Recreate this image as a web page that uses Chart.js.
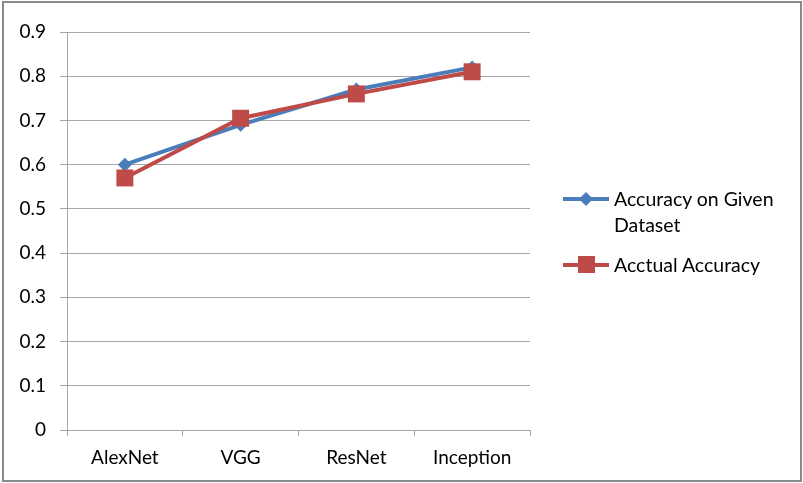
<!DOCTYPE html>
<html>
<head>
<meta charset="utf-8">
<script src="https://cdn.jsdelivr.net/npm/chart.js@4/dist/chart.umd.min.js"></script>
<style>
  html, body { margin: 0; padding: 0; background: #fff; }
  #wrap { position: relative; width: 803px; height: 483px; }
  #frame { position: absolute; left: 2px; top: 1px; width: 796px; height: 477px; border: 2px solid #8a8a8a; pointer-events: none; }
  #legend { position: absolute; left: 563px; top: 186px; font-family: Lato, sans-serif; font-size: 19.5px; color: #000; }
  .item { position: relative; padding-left: 51px; line-height: 26px; margin-bottom: 14px; width: 190px; }
  .swatch { position: absolute; left: 0; top: 11px; width: 46px; height: 4px; }
  .mark { position: absolute; }
</style>
</head>
<body>
<div id="wrap">
  <canvas id="myChart" width="803" height="483"></canvas>
  <div id="legend"></div>
  <div id="frame"></div>
</div>
<script>
// === DATA ===
const categories = ['AlexNet', 'VGG', 'ResNet', 'Inception']
const givenAccuracy = [0.60, 0.69, 0.77, 0.82]
const actualAccuracy = [0.57, 0.705, 0.76, 0.81]
const yTicks = [0, 0.1, 0.2, 0.3, 0.4, 0.5, 0.6, 0.7, 0.8, 0.9]

const blue = '#4a7ebb'
const red = '#be4b48'
const gridColor = '#a6a6a6'

Chart.defaults.font.family = 'Lato, sans-serif'
Chart.defaults.font.size = 19
Chart.defaults.color = '#000'

const ctx = document.getElementById('myChart')
const myChart = new Chart(ctx, {
  type: 'line',
  data: {
    labels: categories,
    datasets: [{
      label: 'Accuracy on Given Dataset',
      data: givenAccuracy,
      borderColor: blue,
      backgroundColor: blue,
      borderWidth: 4,
      pointStyle: 'rectRot',
      pointRadius: 7,
      pointBorderWidth: 0,
      order: 1
    }, {
      label: 'Acctual Accuracy',
      data: actualAccuracy,
      borderColor: red,
      backgroundColor: red,
      borderWidth: 4,
      pointStyle: 'rect',
      pointRadius: 12,
      pointBorderWidth: 0,
      order: 0
    }]
  },
  options: {
    responsive: false,
    animation: false,
    layout: { padding: { left: 0, right: 273, top: 32, bottom: 0 } },
    plugins: { legend: { display: false }, tooltip: { enabled: false } },
    scales: {
      x: {
        offset: true,
        grid: { offset: true, drawOnChartArea: false, color: gridColor, tickLength: 6 },
        border: { color: gridColor, width: 1 },
        ticks: { padding: 10 },
        afterFit: s => { s.height = 53 }
      },
      y: {
        min: 0,
        max: 0.9,
        afterBuildTicks: s => { s.ticks = yTicks.map(v => ({ value: v })) },
        grid: { color: gridColor, tickLength: 7 },
        border: { color: gridColor, width: 1 },
        ticks: { padding: 14, callback: v => String(v) },
        afterFit: s => { s.width = 67 }
      }
    }
  }
})

// === LEGEND ===
const legend = document.getElementById('legend')
myChart.data.datasets.forEach(ds => {
  const item = document.createElement('div')
  item.className = 'item'
  const sw = document.createElement('div')
  sw.className = 'swatch'
  sw.style.background = ds.borderColor
  const mk = document.createElement('div')
  mk.className = 'mark'
  mk.style.background = ds.borderColor
  if (ds.pointStyle === 'rect') {
    mk.style.cssText += 'left:15px;top:4px;width:17px;height:17px;'
  } else {
    mk.style.cssText += 'left:18px;top:8px;width:10px;height:10px;transform:rotate(45deg);'
  }
  item.appendChild(sw)
  item.appendChild(mk)
  item.appendChild(document.createTextNode(ds.label))
  legend.appendChild(item)
})
</script>
</body>
</html>
